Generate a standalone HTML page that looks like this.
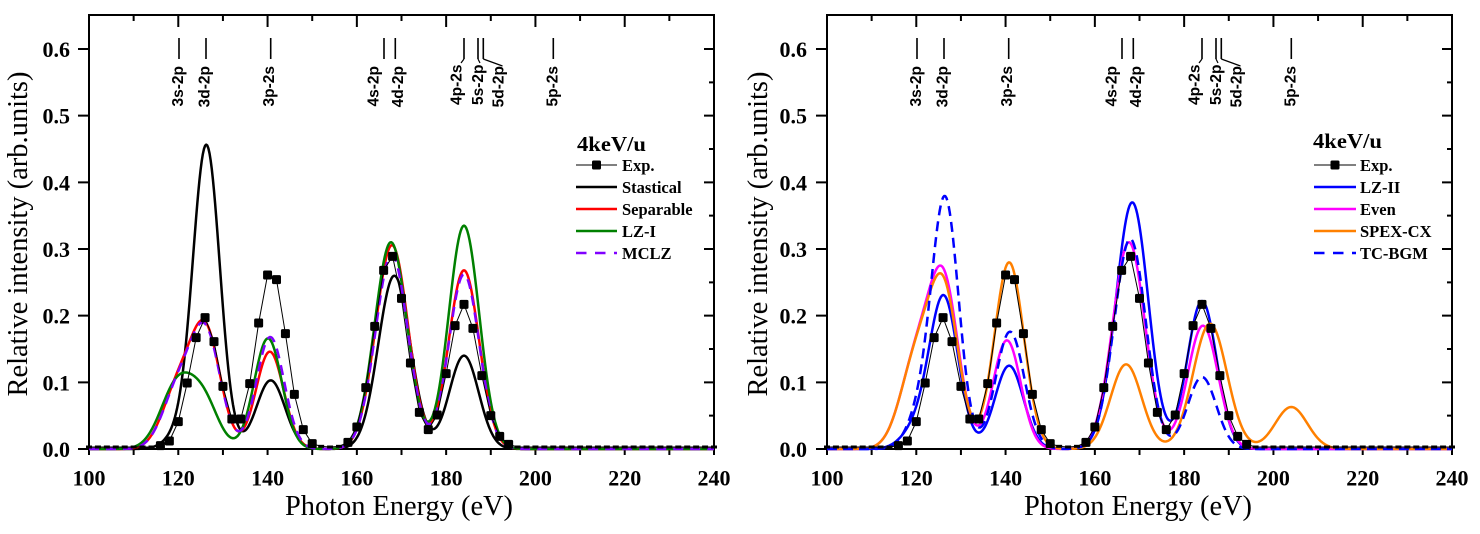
<!DOCTYPE html>
<html><head><meta charset="utf-8"><title>chart</title>
<style>
html,body{margin:0;padding:0;background:#fff;width:1480px;height:534px;overflow:hidden}
svg{display:block}
.tk{font:bold 22px "Liberation Serif",serif;fill:#000}
.ti{font:28px "Liberation Serif",serif;fill:#000}
.an{font:bold 15.5px "Liberation Sans",sans-serif;fill:#000}
.lg{font:bold 16.5px "Liberation Serif",serif;fill:#000}
.lt{font:bold 21px "Liberation Serif",serif;fill:#000}
</style></head><body>
<svg id="s" xmlns="http://www.w3.org/2000/svg" width="1480" height="534" viewBox="0 0 1480 534">
<rect width="1480" height="534" fill="#fff"/>
<g id="axes"></g>
<g id="curves"></g>
<g id="exp"></g>

<!-- left tick labels -->
<g class="tk" text-anchor="end">
<text x="70" y="457">0.0</text><text x="70" y="390.3">0.1</text><text x="70" y="323.7">0.2</text>
<text x="70" y="257">0.3</text><text x="70" y="190.3">0.4</text><text x="70" y="123.7">0.5</text><text x="70" y="57">0.6</text>
<text x="807" y="457">0.0</text><text x="807" y="390.3">0.1</text><text x="807" y="323.7">0.2</text>
<text x="807" y="257">0.3</text><text x="807" y="190.3">0.4</text><text x="807" y="123.7">0.5</text><text x="807" y="57">0.6</text>
</g>
<g class="tk" text-anchor="middle">
<text x="89" y="485.5">100</text><text x="178.3" y="485.5">120</text><text x="267.6" y="485.5">140</text><text x="356.9" y="485.5">160</text>
<text x="446.1" y="485.5">180</text><text x="535.4" y="485.5">200</text><text x="624.7" y="485.5">220</text><text x="714" y="485.5">240</text>
<text x="827" y="485.5">100</text><text x="916.3" y="485.5">120</text><text x="1005.6" y="485.5">140</text><text x="1094.9" y="485.5">160</text>
<text x="1184.1" y="485.5">180</text><text x="1273.4" y="485.5">200</text><text x="1362.7" y="485.5">220</text><text x="1452" y="485.5">240</text>
</g>

<!-- axis titles -->
<text class="ti" x="399" y="515" text-anchor="middle" textLength="228" lengthAdjust="spacingAndGlyphs">Photon Energy (eV)</text>
<text class="ti" x="1138" y="515" text-anchor="middle" textLength="228" lengthAdjust="spacingAndGlyphs">Photon Energy (eV)</text>
<text class="ti" x="27" y="234" text-anchor="middle" transform="rotate(-90 27 234)" textLength="325" lengthAdjust="spacingAndGlyphs">Relative intensity (arb.units)</text>
<text class="ti" x="767" y="234" text-anchor="middle" transform="rotate(-90 767 234)" textLength="325" lengthAdjust="spacingAndGlyphs">Relative intensity (arb.units)</text>

<!-- annotations -->
<g id="ann">
<g stroke="#000" stroke-width="1.6" fill="none">
<path d="M179 38V59M206 38V59M270.7 38V59M384 38V59M395.3 38V59M464 38V59M478 38V59M483.3 38V59M553.3 38V59"/>
<path d="M464 59L461 63M478 59L480 63M483.3 59L502.5 66" stroke-width="1.2"/>
</g>
<g class="an" text-anchor="end">
<text x="183" y="66" transform="rotate(-90 183 66)">3s-2p</text>
<text x="209.5" y="66" transform="rotate(-90 209.5 66)">3d-2p</text>
<text x="274" y="66" transform="rotate(-90 274 66)">3p-2s</text>
<text x="378.5" y="66" transform="rotate(-90 378.5 66)">4s-2p</text>
<text x="403" y="66" transform="rotate(-90 403 66)">4d-2p</text>
<text x="461.5" y="64.5" transform="rotate(-90 461.5 64.5)">4p-2s</text>
<text x="483" y="64.5" transform="rotate(-90 483 64.5)">5s-2p</text>
<text x="503.5" y="66" transform="rotate(-90 503.5 66)">5d-2p</text>
<text x="557.5" y="66" transform="rotate(-90 557.5 66)">5p-2s</text>
</g>
</g>
<g transform="translate(738,0)">
<g stroke="#000" stroke-width="1.6" fill="none">
<path d="M179 38V59M206 38V59M270.7 38V59M384 38V59M395.3 38V59M464 38V59M478 38V59M483.3 38V59M553.3 38V59"/>
<path d="M464 59L461 63M478 59L480 63M483.3 59L502.5 66" stroke-width="1.2"/>
</g>
<g class="an" text-anchor="end">
<text x="183" y="66" transform="rotate(-90 183 66)">3s-2p</text>
<text x="209.5" y="66" transform="rotate(-90 209.5 66)">3d-2p</text>
<text x="274" y="66" transform="rotate(-90 274 66)">3p-2s</text>
<text x="378.5" y="66" transform="rotate(-90 378.5 66)">4s-2p</text>
<text x="403" y="66" transform="rotate(-90 403 66)">4d-2p</text>
<text x="461.5" y="64.5" transform="rotate(-90 461.5 64.5)">4p-2s</text>
<text x="483" y="64.5" transform="rotate(-90 483 64.5)">5s-2p</text>
<text x="503.5" y="66" transform="rotate(-90 503.5 66)">5d-2p</text>
<text x="557.5" y="66" transform="rotate(-90 557.5 66)">5p-2s</text>
</g>
</g>

<!-- left legend -->
<text class="lt" x="577" y="151" textLength="69" lengthAdjust="spacingAndGlyphs">4keV/u</text>
<path d="M576 165H617" stroke="#000" stroke-width="1"/>
<rect x="592" y="160.5" width="9" height="9" rx="1.5" fill="#000"/>
<path d="M576 187H617" stroke="#000" stroke-width="2.5"/>
<path d="M576 209H617" stroke="#ff0000" stroke-width="2.5"/>
<path d="M576 231H617" stroke="#008000" stroke-width="2.5"/>
<path d="M576 253H617" stroke="#8000ff" stroke-width="2.5" stroke-dasharray="10.5 8.5"/>
<g class="lg">
<text x="622" y="171">Exp.</text>
<text x="622" y="193">Stastical</text>
<text x="622" y="215">Separable</text>
<text x="622" y="237">LZ-I</text>
<text x="622" y="259">MCLZ</text>
</g>

<!-- right legend -->
<text class="lt" x="1313" y="148" textLength="69" lengthAdjust="spacingAndGlyphs">4keV/u</text>
<path d="M1314 165H1356" stroke="#000" stroke-width="1"/>
<rect x="1330.5" y="160.5" width="9" height="9" rx="1.5" fill="#000"/>
<path d="M1314 187H1356" stroke="#0000ff" stroke-width="2.5"/>
<path d="M1314 209H1356" stroke="#ff00ff" stroke-width="2.5"/>
<path d="M1314 231H1356" stroke="#ff8000" stroke-width="2.5"/>
<path d="M1314 253H1356" stroke="#0000ff" stroke-width="2.5" stroke-dasharray="10.5 8.5"/>
<g class="lg">
<text x="1360" y="171">Exp.</text>
<text x="1360" y="193">LZ-II</text>
<text x="1360" y="215">Even</text>
<text x="1360" y="237">SPEX-CX</text>
<text x="1360" y="259">TC-BGM</text>
</g>
</svg>
<script>
(function(){
var NS='http://www.w3.org/2000/svg';
var axes=document.getElementById('axes'),cur=document.getElementById('curves'),ex=document.getElementById('exp');
function el(tag,a,p){var e=document.createElementNS(NS,tag);for(var k in a)e.setAttribute(k,a[k]);p.appendChild(e);return e;}
var SX=625/140,SY=400/0.6,Y0=449,TOP=15;
function Y(v){return Y0-v*SY;}
var vals={116:0.005,118:0.012,120:0.041,122:0.099,124:0.167,126:0.197,128:0.161,130:0.094,132:0.045,134:0.045,
136:0.098,138:0.189,140:0.261,142:0.254,144:0.173,146:0.082,148:0.029,150:0.008,152:0.004,154:0.003,156:0.004,
158:0.010,160:0.033,162:0.092,164:0.184,166:0.268,168:0.289,170:0.226,172:0.129,174:0.055,176:0.029,178:0.051,
180:0.113,182:0.185,184:0.217,186:0.181,188:0.110,190:0.050,192:0.019,194:0.007};
var plots=[
 {x0:89,curves:[
  {col:'#000000',g:[[120.2,0.02,3.0],[126.3,0.454,3.0],[140.7,0.103,3.2],[168.4,0.26,3.6],[184.0,0.14,3.3]]},
  {col:'#ff0000',g:[[120.0,0.09,3.5],[126.2,0.171,3.3],[140.5,0.146,3.1],[166.0,0.10,3.4],[168.6,0.225,3.4],[184.0,0.268,3.4]]},
  {col:'#008000',g:[[120.0,0.10,3.8],[126.0,0.06,3.2],[140.1,0.166,3.1],[166.0,0.12,3.4],[168.5,0.21,3.4],[184.0,0.335,3.4]]},
  {col:'#8000ff',dash:'10 7',g:[[120.0,0.088,3.5],[126.2,0.168,3.3],[140.6,0.168,3.1],[166.0,0.10,3.4],[168.6,0.21,3.4],[184.0,0.262,3.4]]}
 ]},
 {x0:827,curves:[
  {col:'#0000ff',g:[[120.2,0.03,3.3],[126.2,0.225,3.2],[140.8,0.125,3.2],[166.1,0.1,3.4],[169.0,0.295,3.4],[184.0,0.222,3.3]]},
  {col:'#ff00ff',g:[[120.0,0.13,3.6],[126.2,0.24,3.3],[140.3,0.163,3.1],[166.0,0.12,3.4],[168.5,0.21,3.4],[184.2,0.185,3.4]]},
  {col:'#ff8000',g:[[120.0,0.13,3.6],[126.2,0.228,3.3],[140.8,0.28,3.3],[167.0,0.127,3.5],[185.8,0.188,3.8],[204.0,0.063,3.6]]},
  {col:'#0000ff',dash:'10 6',g:[[121.0,0.05,3.0],[126.5,0.37,3.0],[141.0,0.176,3.2],[166.0,0.10,3.4],[168.6,0.235,3.3],[184.0,0.108,3.2]]}
 ]}
];
plots.forEach(function(p){
 function X(E){return p.x0+(E-100)*SX;}
 var x1=X(240),d='',E,i;
 for(E=100;E<=240;E+=10){var x=X(E),mj=(E%20===0);
  d+='M'+x+' '+Y0+'V'+(Y0+6);
  d+='M'+x+' '+TOP+'V'+(TOP+(mj?12:6));}
 for(i=0;i<13;i++){var y=Y(i*0.05),mj2=(i%2===0);
  if(mj2)d+='M'+p.x0+' '+y+'H'+(p.x0-11);
  d+='M'+x1+' '+y+'H'+(x1-(mj2?10:5));}
 el('path',{d:d,stroke:'#000','stroke-width':2,fill:'none'},axes);
 el('rect',{x:p.x0,y:TOP,width:625,height:Y0-TOP,fill:'none',stroke:'#000','stroke-width':2},axes);
 p.curves.forEach(function(c){
  var s='';
  for(var E2=100;E2<=240.001;E2+=0.25){var v=0;
   for(var k=0;k<c.g.length;k++){var g=c.g[k],z=(E2-g[0])/g[2];v+=g[1]*Math.exp(-0.5*z*z);}
   s+=(s?'L':'M')+X(E2).toFixed(2)+' '+Y(v).toFixed(2);}
  var a={d:s,fill:'none',stroke:c.col,'stroke-width':2.5,'stroke-linejoin':'round'};
  if(c.dash)a['stroke-dasharray']=c.dash;
  el('path',a,cur);
 });
 var pl='',pts=[];
 for(E=100;E<=240;E+=2){var vv=(vals[E]!==undefined)?vals[E]:0.003;pts.push([X(E),Y(vv),vv]);pl+=(pl?'L':'M')+X(E).toFixed(2)+' '+Y(vv).toFixed(2);}
 el('path',{d:pl,fill:'none',stroke:'#000','stroke-width':1},ex);
 pts.forEach(function(q){
  if(q[2]>=0.005)el('rect',{x:(q[0]-4.5).toFixed(2),y:(q[1]-4.5).toFixed(2),width:9,height:9,rx:1.5,fill:'#000'},ex);
  else el('rect',{x:(q[0]-3).toFixed(2),y:(q[1]-1.5).toFixed(2),width:6,height:3,fill:'#000'},ex);
 });
});
})();
</script>
</body></html>
